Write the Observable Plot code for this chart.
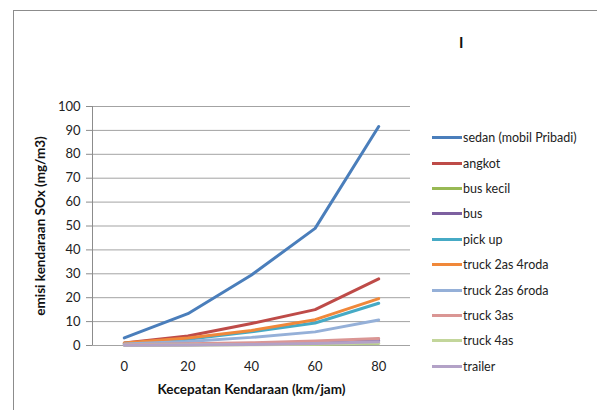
<!DOCTYPE html>
<html>
<head>
<meta charset="utf-8">
<script src="https://cdn.jsdelivr.net/npm/d3@7"></script>
<script src="https://cdn.jsdelivr.net/npm/@observablehq/plot@0.6"></script>
<style>
  html, body { margin: 0; padding: 0; background: #fff; }
  #wrap { position: relative; width: 597px; height: 410px; overflow: hidden; font-family: Lato, "Open Sans", sans-serif; }
  #frame { position: absolute; left: 13px; top: 10px; width: 640px; height: 460px; border: 1px solid #8c8c8c; box-sizing: border-box; }
  #chart { position: absolute; left: 0; top: 0; }
  #legend { position: absolute; left: 432px; top: 125px; }
  .row { display: flex; align-items: center; height: 25.4px; font-size: 12.5px; color: #222; }
  .sw { width: 30px; height: 3px; margin-right: 1px; }
  #mark { position: absolute; left: 459px; top: 33px; font-size: 15px; font-weight: bold; color: #111; }
</style>
</head>
<body>
<div id="wrap">
  <div id="frame"></div>
  <div id="chart"></div>
  <div id="mark">I</div>
  <div id="legend"></div>
</div>
<script>
const speeds = [0, 20, 40, 60, 80];
const seriesNames = ["sedan (mobil Pribadi)", "angkot", "bus kecil", "bus", "pick up", "truck 2as 4roda", "truck 2as 6roda", "truck 3as", "truck 4as", "trailer"];
const seriesColors = ["#4A7EBB", "#BE4B48", "#98B954", "#7D60A0", "#46AAC5", "#F0883A", "#95B0D8", "#DA9694", "#C3D69B", "#B3A2C7"];
const sedan = [3.2, 13.3, 29.5, 49, 91.6];
const angkot = [1.0, 4.0, 9.2, 15.0, 27.9];
const busKecil = [0.2, 0.3, 0.4, 0.5, 0.9];
const bus = [0.2, 0.3, 0.6, 1.0, 2.1];
const pickUp = [0.9, 2.6, 5.7, 9.4, 17.7];
const truck2as4roda = [1.0, 3.1, 6.3, 10.8, 19.6];
const truck2as6roda = [0.6, 1.7, 3.4, 5.7, 10.7];
const truck3as = [0.3, 0.7, 1.1, 1.9, 2.9];
const truck4as = [0.1, 0.2, 0.3, 0.5, 1.0];
const trailer = [0.1, 0.2, 0.4, 0.8, 1.6];
const seriesValues = [sedan, angkot, busKecil, bus, pickUp, truck2as4roda, truck2as6roda, truck3as, truck4as, trailer];
const yTicks = [0, 10, 20, 30, 40, 50, 60, 70, 80, 90, 100];
const yLabel = "emisi kendaraan SOx (mg/m3)";
const xLabel = "Kecepatan Kendaraan (km/jam)";

const data = [];
seriesNames.forEach((name, i) => {
  speeds.forEach((s, j) => data.push({series: name, speed: s, value: seriesValues[i][j]}));
});

const chart = Plot.plot({
  width: 597,
  height: 410,
  marginLeft: 92,
  marginRight: 187,
  marginTop: 106,
  marginBottom: 65,
  style: {fontFamily: "Lato, 'Open Sans', sans-serif", fontSize: "13px", color: "#222", background: "transparent"},
  x: {type: "linear", domain: [-10, 90]},
  y: {domain: [0, 100]},
  color: {domain: seriesNames, range: seriesColors},
  marks: [
    Plot.ruleY(yTicks, {stroke: "#a3a3a3", strokeWidth: 1}),
    Plot.ruleX([-10], {stroke: "#8c8c8c", strokeWidth: 1}),
    Plot.axisY({ticks: yTicks, tickSize: 6, tickPadding: 6, stroke: "#8c8c8c", fontSize: 13, label: null}),
    Plot.axisX({ticks: speeds, tickSize: 0, tickPadding: 16, fontSize: 13, label: null}),
    Plot.lineY(data, {x: "speed", y: "value", z: "series", stroke: "series", strokeWidth: 3, strokeLinejoin: "round", strokeLinecap: "round"}),
    Plot.text([yLabel], {frameAnchor: "left", textAnchor: "middle", lineAnchor: "middle", rotate: -90, dx: -52, fontWeight: "bold", fontSize: 13.5, fill: "#111"}),
    Plot.text([xLabel], {frameAnchor: "bottom", dy: 44, lineAnchor: "middle", fontWeight: "bold", fontSize: 13.5, fill: "#111"})
  ]
});
document.getElementById("chart").appendChild(chart);

const legend = document.getElementById("legend");
seriesNames.forEach((name, i) => {
  const row = document.createElement("div");
  row.className = "row";
  const sw = document.createElement("div");
  sw.className = "sw";
  sw.style.background = seriesColors[i];
  const label = document.createElement("span");
  label.textContent = name;
  row.appendChild(sw);
  row.appendChild(label);
  legend.appendChild(row);
});
</script>
</body>
</html>
